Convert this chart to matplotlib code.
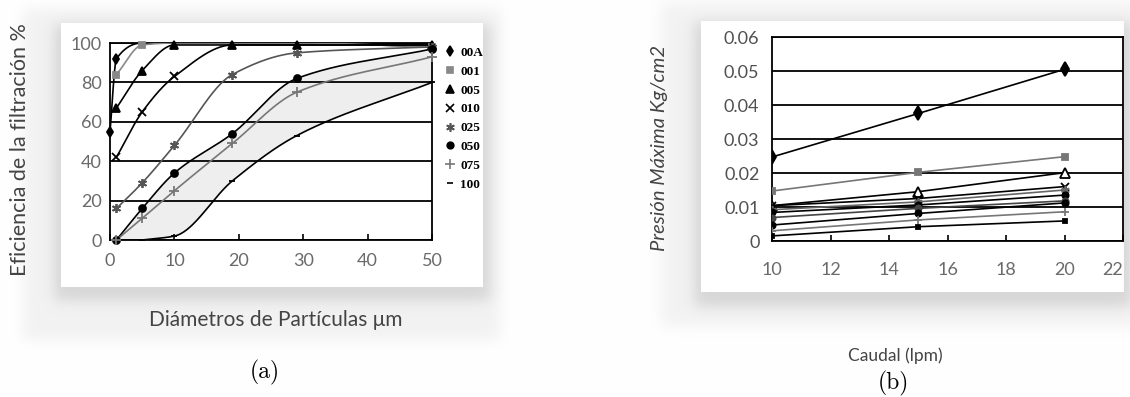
import numpy as np
import matplotlib
matplotlib.use("Agg")
import matplotlib.pyplot as plt
from matplotlib.lines import Line2D
from matplotlib.patches import Rectangle

# ---- panel (a): filtration efficiency vs particle diameter ----
FILTROS = ["00A", "001", "005", "010", "025", "050", "075", "100"]
x_00A = [0, 1, 5, 10, 19, 29, 50]
y_00A = [55, 92, 100, 100, 100, 100, 98]
x_001 = [1, 5, 10, 19, 29, 50]
y_001 = [84, 99, 100, 100, 100, 98]
x_005 = [1, 5, 10, 19, 29, 50]
y_005 = [67, 86, 99, 99, 99, 99]
x_010 = [1, 5, 10, 19, 29, 50]
y_010 = [42, 65, 83, 99, 99, 99]
x_025 = [1, 5, 10, 19, 29, 50]
y_025 = [16, 29, 48, 84, 95, 98]
x_050 = [1, 5, 10, 19, 29, 50]
y_050 = [0, 16, 34, 54, 82, 97]
x_075 = [1, 5, 10, 19, 29, 50]
y_075 = [0, 11, 25, 49, 75, 93]
x_100 = [5, 10, 19, 29, 50]
y_100 = [0, 2, 30, 53, 80]

# ---- panel (b): max pressure vs flow ----
caudal = [10, 15, 20]
p_1 = [0.0247, 0.0375, 0.0505]
p_2 = [0.0147, 0.0202, 0.0248]
p_3 = [0.0104, 0.0145, 0.0201]
p_4 = [0.0104, 0.0125, 0.0160]
p_5 = [0.0092, 0.0115, 0.0150]
p_6 = [0.0084, 0.0106, 0.0135]
p_7 = [0.0069, 0.0096, 0.0118]
p_8 = [0.0047, 0.0081, 0.0112]
p_9 = [0.0030, 0.0062, 0.0086]
p_10 = [0.0015, 0.0042, 0.0059]


def pchip(x, y, n=300):
    """monotone cubic (Fritsch-Carlson) curve through the points"""
    x = np.asarray(x, float); y = np.asarray(y, float)
    h = np.diff(x); d = np.diff(y) / h
    m = np.zeros_like(y)
    m[0], m[-1] = d[0], d[-1]
    for k in range(1, len(x) - 1):
        if d[k - 1] * d[k] > 0:
            w1 = 2 * h[k] + h[k - 1]; w2 = h[k] + 2 * h[k - 1]
            m[k] = (w1 + w2) / (w1 / d[k - 1] + w2 / d[k])
    xs = np.linspace(x[0], x[-1], n)
    i = np.clip(np.searchsorted(x, xs) - 1, 0, len(x) - 2)
    t = (xs - x[i]) / h[i]
    h00 = 2 * t**3 - 3 * t**2 + 1; h10 = t**3 - 2 * t**2 + t
    h01 = -2 * t**3 + 3 * t**2; h11 = t**3 - t**2
    ys = h00 * y[i] + h10 * h[i] * m[i] + h01 * y[i + 1] + h11 * h[i] * m[i + 1]
    return xs, ys


W, H = 1130, 397
fig = plt.figure(figsize=(W / 100, H / 100), dpi=100)
fig.patch.set_facecolor("white")

# soft grey backdrop behind each chart
yy, xx = np.mgrid[0:H, 0:W].astype(float)
def soft(x0, x1, y0, y1, s):
    return (0.25 * (1 + np.tanh((xx - x0) / s)) * (1 + np.tanh((x1 - xx) / s))
            * 0.25 * (1 + np.tanh((yy - y0) / s)) * (1 + np.tanh((y1 - yy) / s)))
bg = (1 - 0.05 * soft(22, 500, 8, 340, 8) - 0.11 * soft(54, 490, 24, 300, 8)
      - 0.05 * soft(660, 1140, 2, 326, 9) - 0.11 * soft(694, 1132, 22, 306, 8))
bax = fig.add_axes([0, 0, 1, 1], zorder=-5)
bax.imshow(np.dstack([bg, bg, bg]), extent=[0, W, H, 0], aspect="auto", interpolation="bilinear")
bax.set_xlim(0, W); bax.set_ylim(H, 0); bax.axis("off")
for (x0, y0, x1, y1) in [(61, 23, 483, 287), (701, 21, 1124, 292)]:
    fig.add_artist(Rectangle((x0 / W, 1 - y1 / H), (x1 - x0) / W, (y1 - y0) / H,
                             transform=fig.transFigure, facecolor="white", edgecolor="none", zorder=-4))

LAB = dict(family=["Lato", "DejaVu Sans"], color="#444444")
TCK = dict(family=["Lato", "DejaVu Sans"])

# ---------------- (a) ----------------
ax = fig.add_axes([110 / W, 1 - 240 / H, 322 / W, 197 / H])
ax.patch.set_alpha(0)
series_a = [
    (x_00A, y_00A, "d", "k", "k", 5, [0, 1, 6]),
    (x_001, y_001, "s", "#888888", "#888888", 4.5, [0, 1, 5]),
    (x_005, y_005, "^", "k", "k", 6, None),
    (x_010, y_010, "x", "k", "k", 5.5, [0, 1, 2]),
    (x_025, y_025, (6, 2, 0), "#555555", "#555555", 6.5, None),
    (x_050, y_050, "o", "k", "k", 5, None),
    (x_075, y_075, "+", "#777777", "#777777", 7, None),
    (x_100, y_100, "_", "k", "k", 5, None),
]
curves = {}
for name, (xs, ys, mk, lc, mc, ms, every) in zip(FILTROS, series_a):
    cx, cy = pchip(xs, ys)
    curves[name] = (cx, cy)
    ax.plot(cx, cy, color=lc, lw=1.2, zorder=3)
    ex = xs if every is None else [xs[k] for k in every]
    ey = ys if every is None else [ys[k] for k in every]
    ax.plot(ex, ey, ls="none", marker=mk, color=mc, ms=ms, mew=1.3, zorder=4, clip_on=False)

# shaded band between the 050 and 100 curves
gx = np.linspace(1, 50, 300)
lo = np.interp(gx, *curves["100"], left=0)
hi = np.interp(gx, *curves["050"])
ax.fill_between(gx, lo, hi, color="#eeeeee", zorder=1, lw=0)

ax.set_xlim(0, 50); ax.set_ylim(0, 100)
ax.set_xticks([0, 10, 20, 30, 40, 50]); ax.set_yticks([0, 20, 40, 60, 80, 100])
ax.grid(axis="y", color="k", lw=1.3, zorder=2)
for sp in ax.spines.values():
    sp.set_linewidth(1.3)
ax.tick_params(axis="x", direction="in", length=4, width=1.2, pad=9, labelsize=13, labelcolor="#6a6a6a")
ax.tick_params(axis="y", length=0, pad=6, labelsize=13, labelcolor="#6a6a6a")
for t in ax.get_xticklabels() + ax.get_yticklabels():
    t.set(**TCK)

handles = [Line2D([0], [0], ls="none", marker=s[2], color=s[4], ms=s[5] * 0.95, mew=1.2) for s in series_a]
leg = fig.legend(handles, FILTROS, loc="upper left", bbox_to_anchor=(438 / W, 1 - 40 / H), frameon=False,
                 handlelength=0.8, handletextpad=0.4, labelspacing=0.5, borderpad=0,
                 prop=dict(family="Liberation Serif", weight="bold", size=9.5))

fig.text(20 / W, 1 - 150 / H, "Eficiencia de la filtración %", rotation=90, ha="center", va="center", fontsize=15.5, **LAB)
fig.text(276 / W, 1 - 320 / H, "Diámetros de Partículas μm", ha="center", va="center", fontsize=15, **LAB)
fig.text(265 / W, 1 - 372 / H, "(a)", ha="center", va="center", fontsize=17, family="cmr10")

# ---------------- (b) ----------------
bx = fig.add_axes([772 / W, 1 - 241 / H, 351 / W, 204 / H])
bx.patch.set_alpha(0)
series_b = [
    (p_1, "d", "k", "k", 7),
    (p_2, "s", "#777777", "#777777", 5),
    (p_3, "^", "k", "white", 7),
    (p_4, "x", "k", "k", 6),
    (p_5, (6, 2, 0), "#666666", "#666666", 6),
    (p_6, "o", "k", "k", 4.5),
    (p_7, "o", "#444444", "#444444", 4.5),
    (p_8, "o", "k", "k", 4.5),
    (p_9, "+", "#777777", "#777777", 6),
    (p_10, "s", "k", "k", 3.5),
]
for vals, mk, lc, fc, ms in series_b:
    bx.plot(caudal, vals, color=lc, lw=1.2, marker=mk, ms=ms, mfc=fc, mec=lc, mew=1.3, zorder=3)

bx.set_xlim(10, 22); bx.set_ylim(0, 0.06)
bx.set_xticks([10, 12, 14, 16, 18, 20, 22])
bx.set_yticks([0, 0.01, 0.02, 0.03, 0.04, 0.05, 0.06])
bx.set_yticklabels(["0", "0.01", "0.02", "0.03", "0.04", "0.05", "0.06"])
bx.grid(axis="y", color="k", lw=1.3, zorder=2)
for sp in bx.spines.values():
    sp.set_linewidth(1.3)
bx.tick_params(axis="x", direction="in", length=4, width=1.2, pad=15, labelsize=13, labelcolor="#6a6a6a")
bx.tick_params(axis="y", length=0, pad=9, labelsize=13, labelcolor="#505050")
for t in bx.get_xticklabels() + bx.get_yticklabels():
    t.set(**TCK)
bx.get_xticklabels()[-1].set_ha("right")

fig.text(660 / W, 1 - 148 / H, "Presión Máxima Kg/cm2", rotation=90, ha="center", va="center",
         fontsize=14.5, style="italic", **LAB)
fig.text(895 / W, 1 - 356 / H, "Caudal (lpm)", ha="center", va="center", fontsize=12.5, **LAB)
fig.text(893 / W, 1 - 383 / H, "(b)", ha="center", va="center", fontsize=17, family="cmr10")

fig.savefig("out.png", dpi=100)
